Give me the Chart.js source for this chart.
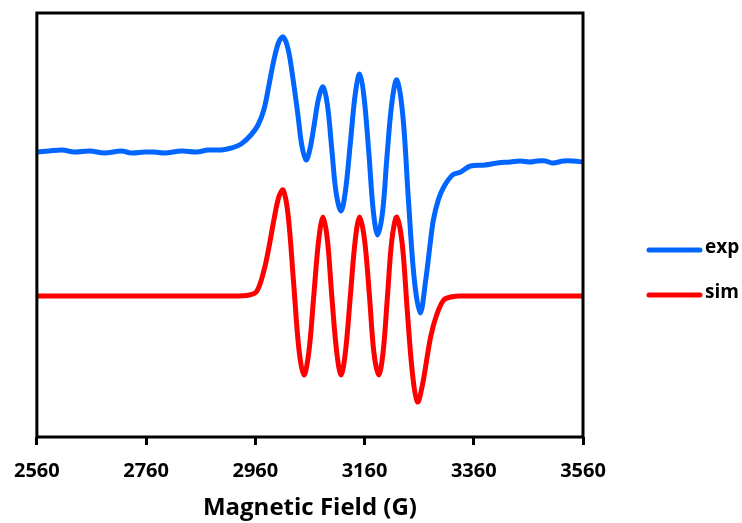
<!DOCTYPE html>
<html>
<head>
<meta charset="utf-8">
<script src="https://cdn.jsdelivr.net/npm/chart.js@4/dist/chart.umd.min.js"></script>
<style>
  html, body { margin: 0; padding: 0; background: #fff; }
  #wrap { width: 742px; height: 523px; }
</style>
</head>
<body>
<div id="wrap"><canvas id="eprChart" width="742" height="523"></canvas></div>
<script>
const expField = [2560, 2582, 2606, 2629, 2657, 2684, 2715, 2733, 2757, 2775, 2794, 2825, 2852, 2874, 2898,
  2916, 2934, 2952, 2965, 2976, 2985, 2994, 3003, 3011, 3020, 3029, 3038, 3045, 3053,
  3060, 3068, 3076, 3084, 3092, 3100, 3108, 3117, 3125, 3134, 3143, 3151,
  3159, 3168, 3176, 3184, 3193, 3201, 3210, 3219, 3230, 3240, 3251, 3262,
  3272, 3281, 3286, 3295, 3305, 3321, 3336, 3354, 3381, 3403, 3427, 3445, 3463, 3476, 3491, 3505, 3524, 3542, 3560];
const expSignal = [285, 286, 287, 285, 286, 284, 286, 284, 285, 285, 284, 286, 285, 287, 287,
  289, 293, 302, 312, 328, 352, 377, 395, 400, 388, 358, 322, 292, 277,
  288, 313, 339, 350, 332, 288, 244, 226, 246, 294, 343, 363,
  340, 283, 226, 202, 225, 280, 334, 357, 322, 240, 158, 124,
  157, 197, 217, 237, 250, 262, 265, 271, 272, 274, 275, 276, 275, 276, 276, 274, 276, 276, 275];

const simField = [2560, 2916, 2949, 2963, 2976, 2985, 2994, 3003, 3011, 3020, 3030, 3040, 3049,
  3058, 3067, 3076, 3084, 3092, 3100, 3109, 3117, 3125, 3134, 3143, 3151,
  3160, 3169, 3177, 3186, 3194, 3202, 3210, 3219, 3229, 3238, 3248, 3257,
  3266, 3281, 3292, 3305, 3318, 3336, 3560];
const simSignal = [141, 141, 142, 146, 167, 190, 217, 240, 247, 222, 155, 87, 62,
  85, 141, 197, 220, 197, 141, 85, 62, 85, 141, 197, 220,
  197, 141, 85, 62, 85, 141, 197, 220, 193, 128, 62, 35,
  52, 100, 122, 137, 140, 141, 141];

const xTicks = [2560, 2760, 2960, 3160, 3360, 3560];

function toPoints(xs, ys) {
  return xs.map((x, i) => ({ x: x, y: ys[i] }));
}

// Marco negro alrededor del área de la gráfica
const framePlugin = {
  id: 'frame',
  afterDatasetsDraw(chart) {
    const { ctx, chartArea: a } = chart;
    ctx.save();
    ctx.strokeStyle = '#000';
    ctx.lineWidth = 3;
    ctx.strokeRect(a.left, a.top, a.right - a.left, a.bottom - a.top);
    ctx.restore();
  }
};

// Leyenda a la derecha, dibujada a mano
const sideLegend = {
  id: 'sideLegend',
  afterDraw(chart) {
    const ctx = chart.ctx;
    const rows = [250, 295];
    chart.data.datasets.forEach((ds, i) => {
      const y = rows[i];
      ctx.save();
      ctx.strokeStyle = ds.borderColor;
      ctx.lineWidth = 5;
      ctx.lineCap = 'round';
      ctx.beginPath();
      ctx.moveTo(649, y);
      ctx.lineTo(700, y);
      ctx.stroke();
      ctx.fillStyle = '#000';
      ctx.font = 'bold 19px "Open Sans"';
      ctx.textBaseline = 'middle';
      ctx.fillText(ds.label, 705, y - 2);
      ctx.restore();
    });
  }
};

new Chart(document.getElementById('eprChart').getContext('2d'), {
  type: 'line',
  data: {
    datasets: [
      {
        label: 'exp',
        data: toPoints(expField, expSignal),
        borderColor: '#0066ff',
        borderWidth: 5,
        pointRadius: 0,
        tension: 0.35,
        fill: false
      },
      {
        label: 'sim',
        data: toPoints(simField, simSignal),
        borderColor: '#ff0000',
        borderWidth: 5,
        pointRadius: 0,
        tension: 0.35,
        fill: false
      }
    ]
  },
  options: {
    responsive: false,
    animation: false,
    layout: { padding: { left: 34, right: 159, top: 13, bottom: 0 } },
    plugins: {
      legend: { display: false },
      tooltip: { enabled: false }
    },
    scales: {
      x: {
        type: 'linear',
        min: 2560,
        max: 3560,
        afterBuildTicks: (scale) => { scale.ticks = xTicks.map(v => ({ value: v })); },
        afterFit: (scale) => { scale.height = 86; },
        ticks: {
          color: '#000',
          padding: 14,
          maxRotation: 0,
          callback: (v) => String(v),
          font: { family: '"Open Sans"', size: 20, weight: 'bold' }
        },
        grid: {
          drawOnChartArea: false,
          drawTicks: true,
          tickLength: 8,
          lineWidth: 3,
          color: '#000'
        },
        border: { display: false },
        title: {
          display: true,
          text: 'Magnetic Field (G)',
          color: '#000',
          padding: { top: 0, bottom: 0 },
          font: { family: '"Open Sans"', size: 24, weight: 'bold' }
        }
      },
      y: {
        display: false,
        min: 0,
        max: 424
      }
    }
  },
  plugins: [framePlugin, sideLegend]
});
</script>
</body>
</html>
